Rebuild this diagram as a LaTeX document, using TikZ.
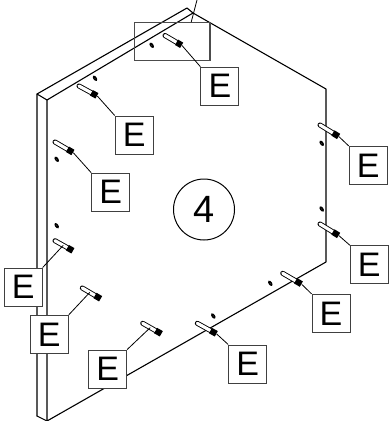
\documentclass[tikz,border=0pt]{standalone}
\usepackage{fontspec}
\setmainfont{Liberation Sans}
\usetikzlibrary{calc}
\tikzset{
  edge/.style={black,line width=1.1pt,line cap=round,line join=round},
  frame/.style={draw=black!70,line width=1.1pt},
  leader/.style={black,line width=0.8pt},
  ebox/.style={draw=black!75,fill=white,line width=1pt,minimum size=38pt,inner sep=0pt,font=\fontsize{34}{34}\selectfont},
}
\newcommand{\pinshape}[3]{%
  \coordinate (#1s) at (#2);
  \coordinate (#1e) at (#3);
  \draw[black,line width=5pt,line cap=round] (#1s) -- ($(#1s)!0.7!(#1e)$);
  \draw[white,line width=3.2pt,line cap=round] (#1s) -- ($(#1s)!0.7!(#1e)$);
  \draw[black,line width=6.2pt] ($(#1s)!0.68!(#1e)$) -- ($(#1s)!0.98!(#1e)$);
}
\newcommand{\holeat}[1]{\draw[black,line width=1.4pt,fill=white,rotate around={35:(#1)}] (#1) ellipse (1pt and 2.2pt);}
\begin{document}
\begin{tikzpicture}[x=1pt,y=-1pt]
\useasboundingbox (0,0) rectangle (390,421);
% plate
\coordinate (oa) at (37,94);
\coordinate (ob) at (187,8);
\coordinate (ia) at (47,100);
\coordinate (ic) at (193,13);
\coordinate (r1) at (326,89);
\coordinate (r2) at (326,262);
\coordinate (ib) at (47,421);
\coordinate (ob2) at (37,416);
\draw[edge] (ob2) -- (oa) -- (ob) -- (ic) -- (r1) -- (r2) -- (ib) -- (ia) -- (ic);
\draw[edge] (oa) -- (ia);
\draw[edge] (ob2) -- (ib);
% detail frame and its leader
\node[frame,minimum width=75.5pt,minimum height=38pt,inner sep=0pt] (detail) at (172.2,41.7) {};
\coordinate (dtop) at (197,0);
\draw[leader] (detail.north east) ++(-19.3,0) -- (dtop);
% holes
\holeat{151.7,45.3}
\holeat{95,78.3}
\holeat{56.7,159.3}
\holeat{56.7,225.7}
\holeat{213.3,316}
\holeat{270.3,283.3}
\holeat{321.7,143.3}
\holeat{321.7,209}
% pins
\pinshape{p1}{165,35.5}{182,45.5}
\pinshape{p2}{79,86}{97.3,96}
\pinshape{p3}{55,142}{73.3,152.7}
\pinshape{p4}{55,240.7}{73.3,251}
\pinshape{p5}{82.3,288}{101,299}
\pinshape{p6}{142.7,323.3}{161.7,334}
\pinshape{p7}{197.3,323.3}{216.7,334}
\pinshape{p8}{282.7,273.3}{301.7,284.3}
\pinshape{p9}{320,224}{339,235.7}
\pinshape{p10}{320,125}{339,136.7}
% label boxes
\node[ebox] (e1) at (219.9,86.2) {E};
\node[ebox] (e2) at (134.2,135) {E};
\node[ebox] (e3) at (110.7,192.2) {E};
\node[ebox] (e4) at (23.2,287) {E};
\node[ebox] (e5) at (49.3,334.3) {E};
\node[ebox] (e6) at (107.7,369) {E};
\node[ebox] (e7) at (247.7,364) {E};
\node[ebox] (e8) at (331,313.3) {E};
\node[ebox] (e9) at (369.3,264.7) {E};
\node[ebox] (e10) at (368.2,165.4) {E};
% leaders
\draw[leader] (p1e) -- (e1.north west);
\draw[leader] (p2e) -- (e2.north west);
\draw[leader] (p3e) -- (e3.north west);
\draw[leader] ($(p4s)!0.45!(p4e)$) -- (e4.north east);
\draw[leader] ($(p5s)!0.4!(p5e)$) -- (e5.north east);
\draw[leader] ($(p6s)!0.4!(p6e)$) -- (e6.north east);
\draw[leader] (p7e) -- (e7.north west);
\draw[leader] (p8e) -- (e8.north west);
\draw[leader] (p9e) -- (e9.north west);
\draw[leader] (p10e) -- (e10.north west);
% number
\node[circle,draw=black,line width=1pt,minimum size=61pt,inner sep=0pt,font=\fontsize{38}{38}\selectfont] (num) at (204,209.5) {4};
\end{tikzpicture}
\end{document}
